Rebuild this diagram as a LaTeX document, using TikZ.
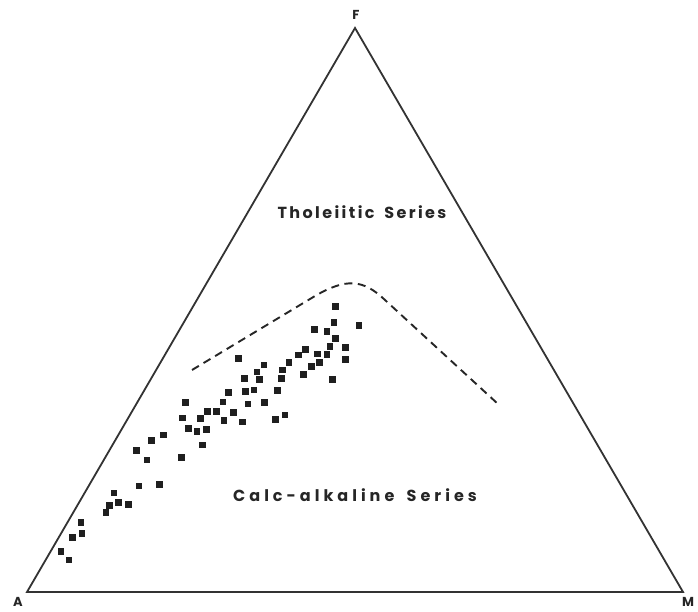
\documentclass[tikz,border=0pt]{standalone}
\usepackage{fontspec}
\newfontfamily\labfont{Poppins}
\newfontfamily\labfontA{Poppins}[LetterSpace=15]
\newfontfamily\labfontB{Poppins}[LetterSpace=25]
\begin{document}
\begin{tikzpicture}[x=1pt,y=-1pt,
  edge/.style={draw=black!80,line width=1.8pt,line join=miter},
  bound/.style={draw=black!85,line width=1.9pt,dash pattern=on 8pt off 5.5pt},
  pt/.style={fill=black!88,draw=none,minimum size=6.6pt,inner sep=0pt,rectangle},
  vlab/.style={font=\labfont\bfseries\fontsize{13}{13}\selectfont,text=black!85,inner sep=0pt},
  serieslab/.style={text=black!85,inner sep=0pt}]
\useasboundingbox (0,0) rectangle (698,612);
\fill[white] (0,0) rectangle (698,612);
\coordinate (A) at (27,592);
\coordinate (M) at (683,592);
\coordinate (F) at (355,28);
\draw[edge] (A) -- (M) -- (F) -- cycle;
\node[vlab] (lF) at (356,15) {F};
\node[vlab] (lA) at (18,602) {A};
\node[vlab] (lM) at (688,602) {M};
\node[serieslab,font=\labfontA\bfseries\fontsize{16}{16}\selectfont] (th) at (362,212) {Tholeiitic\hspace{4pt} Series};
\node[serieslab,font=\labfontB\bfseries\fontsize{16}{16}\selectfont] (ca) at (355,495) {Calc-alkaline\hspace{5pt} Series};
\coordinate (b1) at (192,370);
\coordinate (b2) at (315,296);
\coordinate (b3) at (385,300);
\coordinate (b4) at (498,404);
\draw[bound] (b1) -- (b2) .. controls (346,278) and (363,279) .. (b3) -- (b4);
\foreach \x/\y [count=\i] in {
335.7/306.3, 334/322.3, 359/325.3, 314.3/329.7, 327/331.3, 335.5/338.7,
330/346.5, 345.3/347.3, 305.3/349.3, 298.3/355, 317.3/354, 327/354.5,
345.3/359.3, 238.7/358.7, 264/365, 289/362.3, 319.3/362.7, 311.7/366.7,
282.5/370, 256.8/371.8, 303.3/374.3, 332.5/379.3, 244.3/378.7, 259.2/379.3,
281.3/378.7, 228.7/392.2, 245.2/391.7, 254/390, 277.2/390.2, 223/401.8,
248/404, 264.5/402.7, 185.7/402.7, 207.7/411.7, 216.3/411.7, 233.3/412.3,
284.8/414.8, 275.7/419.7, 182.7/418, 200.7/418.7, 224/420.3, 242.7/422,
188.5/428.2, 197/431.7, 206.3/429.3, 202.3/445, 163.3/435, 151.7/440.3,
136.3/450.7, 147/460, 181.3/457.3, 139/486, 159.3/484.3, 114/493,
118.3/502.3, 128.3/504.3, 109.3/505.7, 106/512.7, 81/522.7, 82/533.3,
72.3/537.3, 61/551.3, 69/560}
  \node[pt] (p\i) at (\x,\y) {};
\end{tikzpicture}
\end{document}
